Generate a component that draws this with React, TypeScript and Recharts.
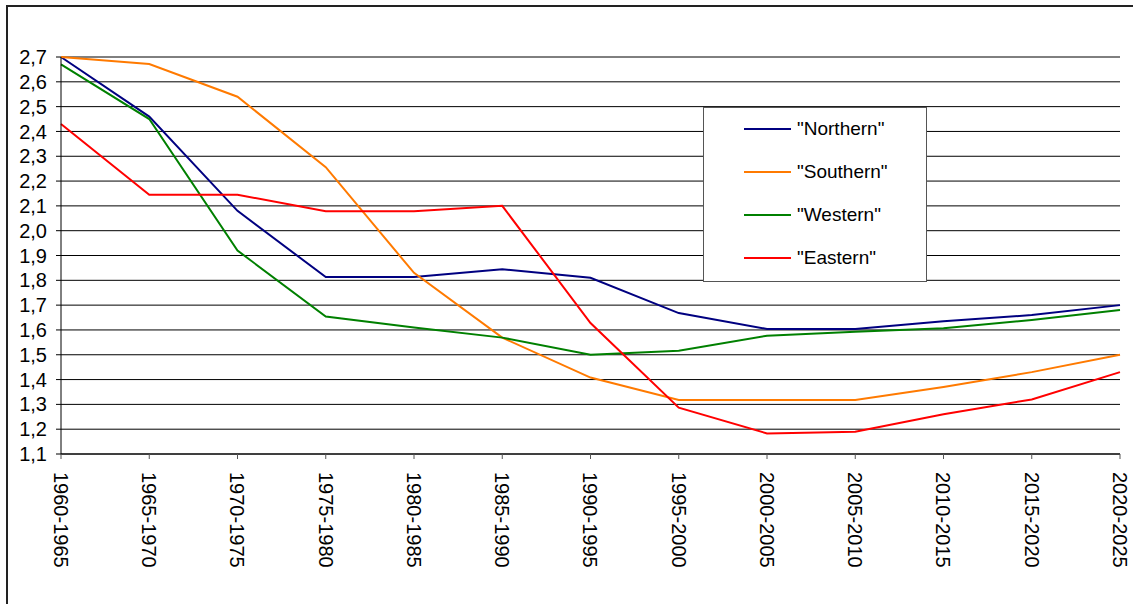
import { LineChart, Line, XAxis, YAxis, CartesianGrid } from "recharts";

const periods = [
  "1960-1965", "1965-1970", "1970-1975", "1975-1980", "1980-1985", "1985-1990", "1990-1995",
  "1995-2000", "2000-2005", "2005-2010", "2010-2015", "2015-2020", "2020-2025",
];
const northern = [2.7, 2.46, 2.08, 1.813, 1.813, 1.845, 1.81, 1.668, 1.604, 1.604, 1.635, 1.66, 1.7];
const southern = [2.7, 2.672, 2.54, 2.256, 1.83, 1.569, 1.408, 1.318, 1.318, 1.318, 1.37, 1.43, 1.5];
const western = [2.67, 2.45, 1.92, 1.654, 1.61, 1.569, 1.5, 1.516, 1.577, 1.593, 1.607, 1.64, 1.68];
const eastern = [2.43, 2.145, 2.145, 2.078, 2.078, 2.1, 1.628, 1.287, 1.183, 1.19, 1.26, 1.32, 1.43];
const yTicks = [1.1, 1.2, 1.3, 1.4, 1.5, 1.6, 1.7, 1.8, 1.9, 2.0, 2.1, 2.2, 2.3, 2.4, 2.5, 2.6, 2.7];

const series = [
  { key: "northern", name: '"Northern"', color: "#000080" },
  { key: "southern", name: '"Southern"', color: "#ff7a00" },
  { key: "western", name: '"Western"', color: "#008000" },
  { key: "eastern", name: '"Eastern"', color: "#ff0000" },
];

const data = periods.map((p, i) => ({
  period: p,
  northern: northern[i],
  southern: southern[i],
  western: western[i],
  eastern: eastern[i],
}));

const font = "'Liberation Sans', Arial, sans-serif";

function PeriodTick(props: any) {
  const { x, y, payload } = props;
  return (
    <g transform={`translate(${x},${y + 11})`}>
      <text transform="rotate(90)" x={0} y={0} dy="0.36em" textAnchor="start" fill="#000" fontSize={20} fontFamily={font}>
        {payload.value}
      </text>
    </g>
  );
}

// legend drawn outside the chart so it doesn't eat into the plot height
function LegendBox() {
  return (
    <div style={{ position: "absolute", left: 703, top: 107, width: 224, height: 175, boxSizing: "border-box", border: "1px solid #555", background: "#fff", fontFamily: font, fontSize: 19 }}>
      {series.map((s, i) => (
        <div key={s.key} style={{ position: "absolute", left: 40, top: 8 + i * 43, height: 26, display: "flex", alignItems: "center" }}>
          <div style={{ width: 47, height: 2, background: s.color, marginRight: 6 }} />
          <span>{s.name}</span>
        </div>
      ))}
    </div>
  );
}

export default function App() {
  return (
    <div style={{ position: "absolute", left: 0, top: 0, width: 1133, height: 604, overflow: "hidden", background: "#fff" }}>
      <div style={{ position: "absolute", left: 6, top: 5, width: 1140, height: 620, border: "2px solid #222", boxSizing: "border-box" }} />
      <LineChart width={1133} height={604} data={data} margin={{ top: 57, right: 13, left: 11, bottom: 40 }}>
        <CartesianGrid horizontal vertical={false} stroke="#000" strokeWidth={1} />
        <XAxis
          dataKey="period"
          interval={0}
          tick={<PeriodTick />}
          height={110}
          tickSize={5}
          stroke="#000"
          tickLine={{ stroke: "#555" }}
        />
        <YAxis
          domain={[1.1, 2.7]}
          ticks={yTicks}
          interval={0}
          width={50}
          tickSize={5}
          tickMargin={9}
          stroke="#000"
          tickFormatter={(v: number) => v.toFixed(1).replace(".", ",")}
          tick={{ fill: "#000", fontSize: 20, fontFamily: font }}
        />
        <YAxis yAxisId="r" orientation="right" width={0} tick={false} tickLine={false} stroke="#808080" />
        {series.map((s) => (
          <Line
            key={s.key}
            type="linear"
            dataKey={s.key}
            name={s.name}
            stroke={s.color}
            strokeWidth={2}
            dot={false}
            isAnimationActive={false}
          />
        ))}
      </LineChart>
      <LegendBox />
    </div>
  );
}
